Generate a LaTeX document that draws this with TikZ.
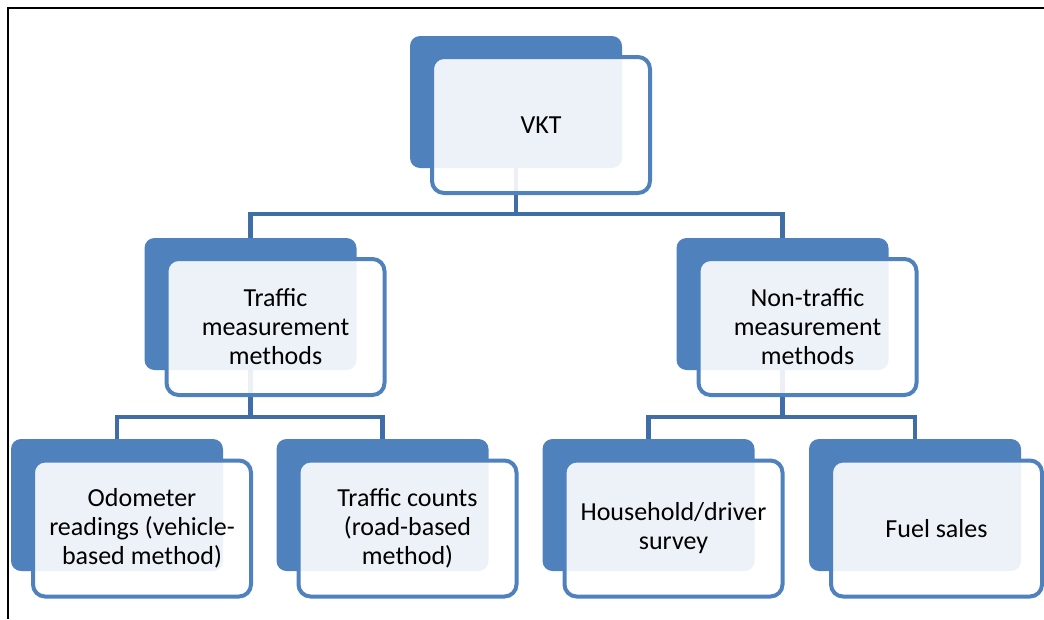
\documentclass[tikz,border=0pt]{standalone}
\usepackage{fontspec}
\setmainfont{Carlito}
\usetikzlibrary{backgrounds}
\definecolor{accent}{HTML}{4F81BD}
\definecolor{connc}{HTML}{3F6EA6}
\tikzset{
  backbox/.style={fill=accent, draw=none, rounded corners=10pt,
    minimum width=212pt, minimum height=132pt, inner sep=0pt},
  frontbox/.style={draw=accent, line width=4pt, fill=white, fill opacity=0.9,
    text opacity=1, rounded corners=12pt, minimum width=218pt, minimum height=136pt,
    inner sep=0pt, align=center, text=black,
    font=\fontsize{26}{29}\selectfont},
  conn/.style={draw=connc, line width=4.5pt},
  frame/.style={draw=black, line width=2pt}
}
\begin{document}
\begin{tikzpicture}[x=1pt,y=-1pt]
\useasboundingbox (0,0) rectangle (1044,619);
\draw[frame] (1044,7.5) -- (7.5,7.5) -- (7.5,619);
% back boxes
\node[backbox] (vktb) at (516,102) {};
\node[backbox] (tmb) at (250.5,304) {};
\node[backbox] (ntb) at (782.5,304) {};
\node[backbox] (odb) at (117,505) {};
\node[backbox] (tcb) at (382.5,505) {};
\node[backbox] (hhb) at (648.5,505) {};
\node[backbox] (fsb) at (915,505) {};
% front boxes
\node[frontbox] (vkt) at (541,125) {VKT};
\node[frontbox] (tm) at (275.5,327) {Traffic\\measurement\\methods};
\node[frontbox] (nt) at (807.5,327) {Non-traffic\\measurement\\methods};
\node[frontbox] (od) at (142,528.5) {Odometer\\readings (vehicle-\\based method)};
\node[frontbox] (tc) at (407.5,528.5) {Traffic counts\\(road-based\\method)};
\node[frontbox] (hh) at (673.5,528.5) {Household/driver\\survey};
\node[frontbox, minimum width=211pt] (fs) at (936.5,528.5) {Fuel sales};
% connectors
\coordinate (j1) at (516,214);
\coordinate (j2) at (250.5,417);
\coordinate (j3) at (782.5,417);
\begin{scope}[on background layer]
\draw[conn] (vktb.center) -- (j1);
\draw[conn] (tmb.north) |- (j1) -| (ntb.north);
\draw[conn] (tmb.center) -- (j2);
\draw[conn] (odb.north) |- (j2) -| (tcb.north);
\draw[conn] (ntb.center) -- (j3);
\draw[conn] (hhb.north) |- (j3) -| (fsb.north);
\end{scope}
\end{tikzpicture}
\end{document}
